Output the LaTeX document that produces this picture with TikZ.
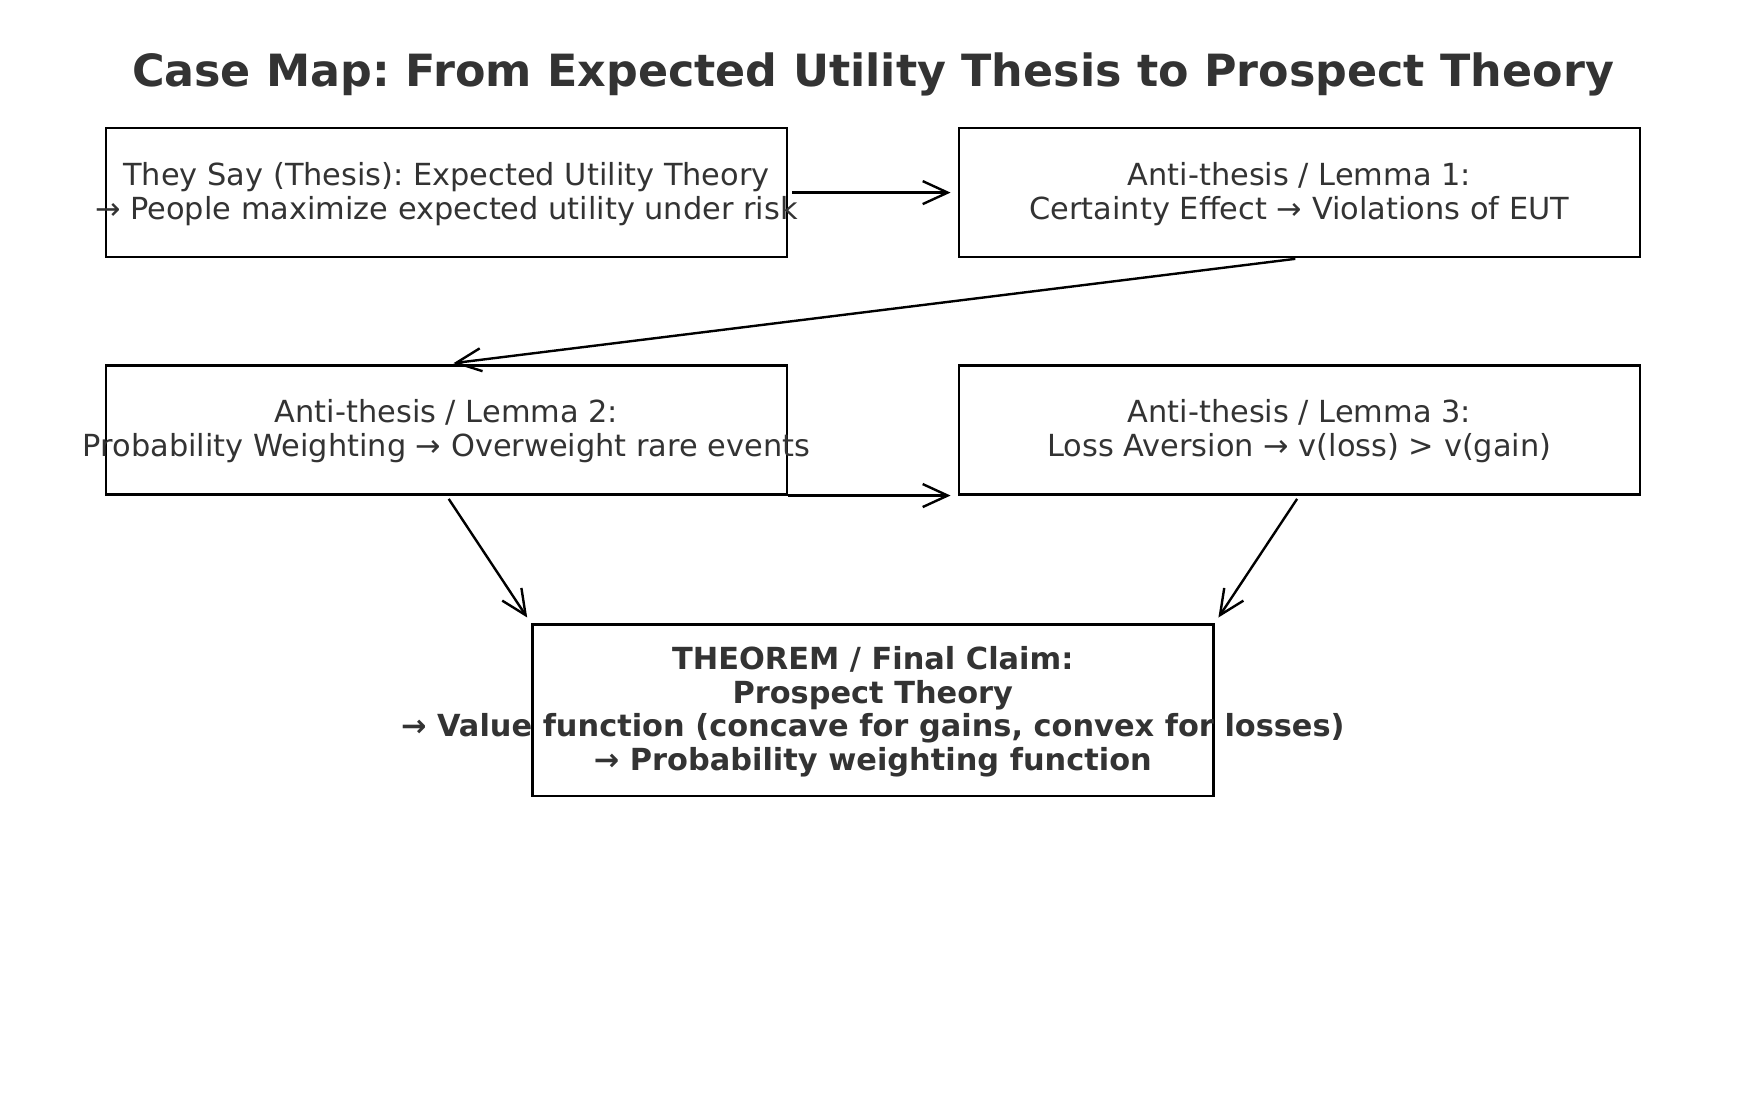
\documentclass[tikz,border=0pt]{standalone}
\usepackage{fontspec}
\setmainfont{DejaVu Sans}
\usetikzlibrary{arrows.meta}
\definecolor{txt}{HTML}{333333}
\frenchspacing
\begin{document}
\frenchspacing
\begin{tikzpicture}[x=1pt,y=-1pt,
  boxs/.style={draw=black, line width=2.5pt, minimum width=681pt, minimum height=129pt, inner sep=0pt},
  lbl/.style={text=txt, align=center, font=\fontsize{30.4}{33.6}\selectfont, inner sep=0pt, yshift=-1.5pt},
  conn/.style={-{Straight Barb[length=25pt,width=23pt,line width=2.4pt]}, line width=2.4pt, shorten >=7pt, shorten <=4pt}]
\useasboundingbox[fill=white] (0,0) rectangle (1745,1118);
\node[text=txt, font=\fontsize{44.4}{50}\bfseries\selectfont, inner sep=0pt] (title) at (873,74) {Case Map: From Expected Utility Thesis to Prospect Theory};
\node[boxs] (b1) at (446.5,192.6) {};
\node[boxs] (b2) at (1299.3,192.6) {};
\node[boxs] (b3) at (446.5,429.8) {};
\node[boxs] (b4) at (1299.3,429.8) {};
\node[boxs, minimum height=171.4pt] (b5) at (872.8,710.3) {};
\node[lbl] (t1) at (b1.center) {They Say (Thesis): Expected Utility Theory\\→ People maximize expected utility under risk};
\node[lbl] (t2) at (b2.center) {Anti-thesis / Lemma 1:\\Certainty Effect → Violations of EUT};
\node[lbl] (t3) at (b3.center) {Anti-thesis / Lemma 2:\\Probability Weighting → Overweight rare events};
\node[lbl] (t4) at (b4.center) {Anti-thesis / Lemma 3:\\Loss Aversion → v(loss) > v(gain)};
\node[lbl, font=\fontsize{30.4}{33.8}\bfseries\selectfont] (t5) at (b5.center) {THEOREM / Final Claim:\\Prospect Theory\\→ Value function (concave for gains, convex for losses)\\→ Probability weighting function};
\draw[conn] (b1.east) -- (b2.west);
\draw[conn] (b2.south) -- (b3.north);
\draw[conn, shorten <=0pt] (b3.south east) -- (b4.south west);
\draw[conn] (b3.south) -- (b5.north west);
\draw[conn] (b4.south) -- (b5.north east);
\end{tikzpicture}
\end{document}
